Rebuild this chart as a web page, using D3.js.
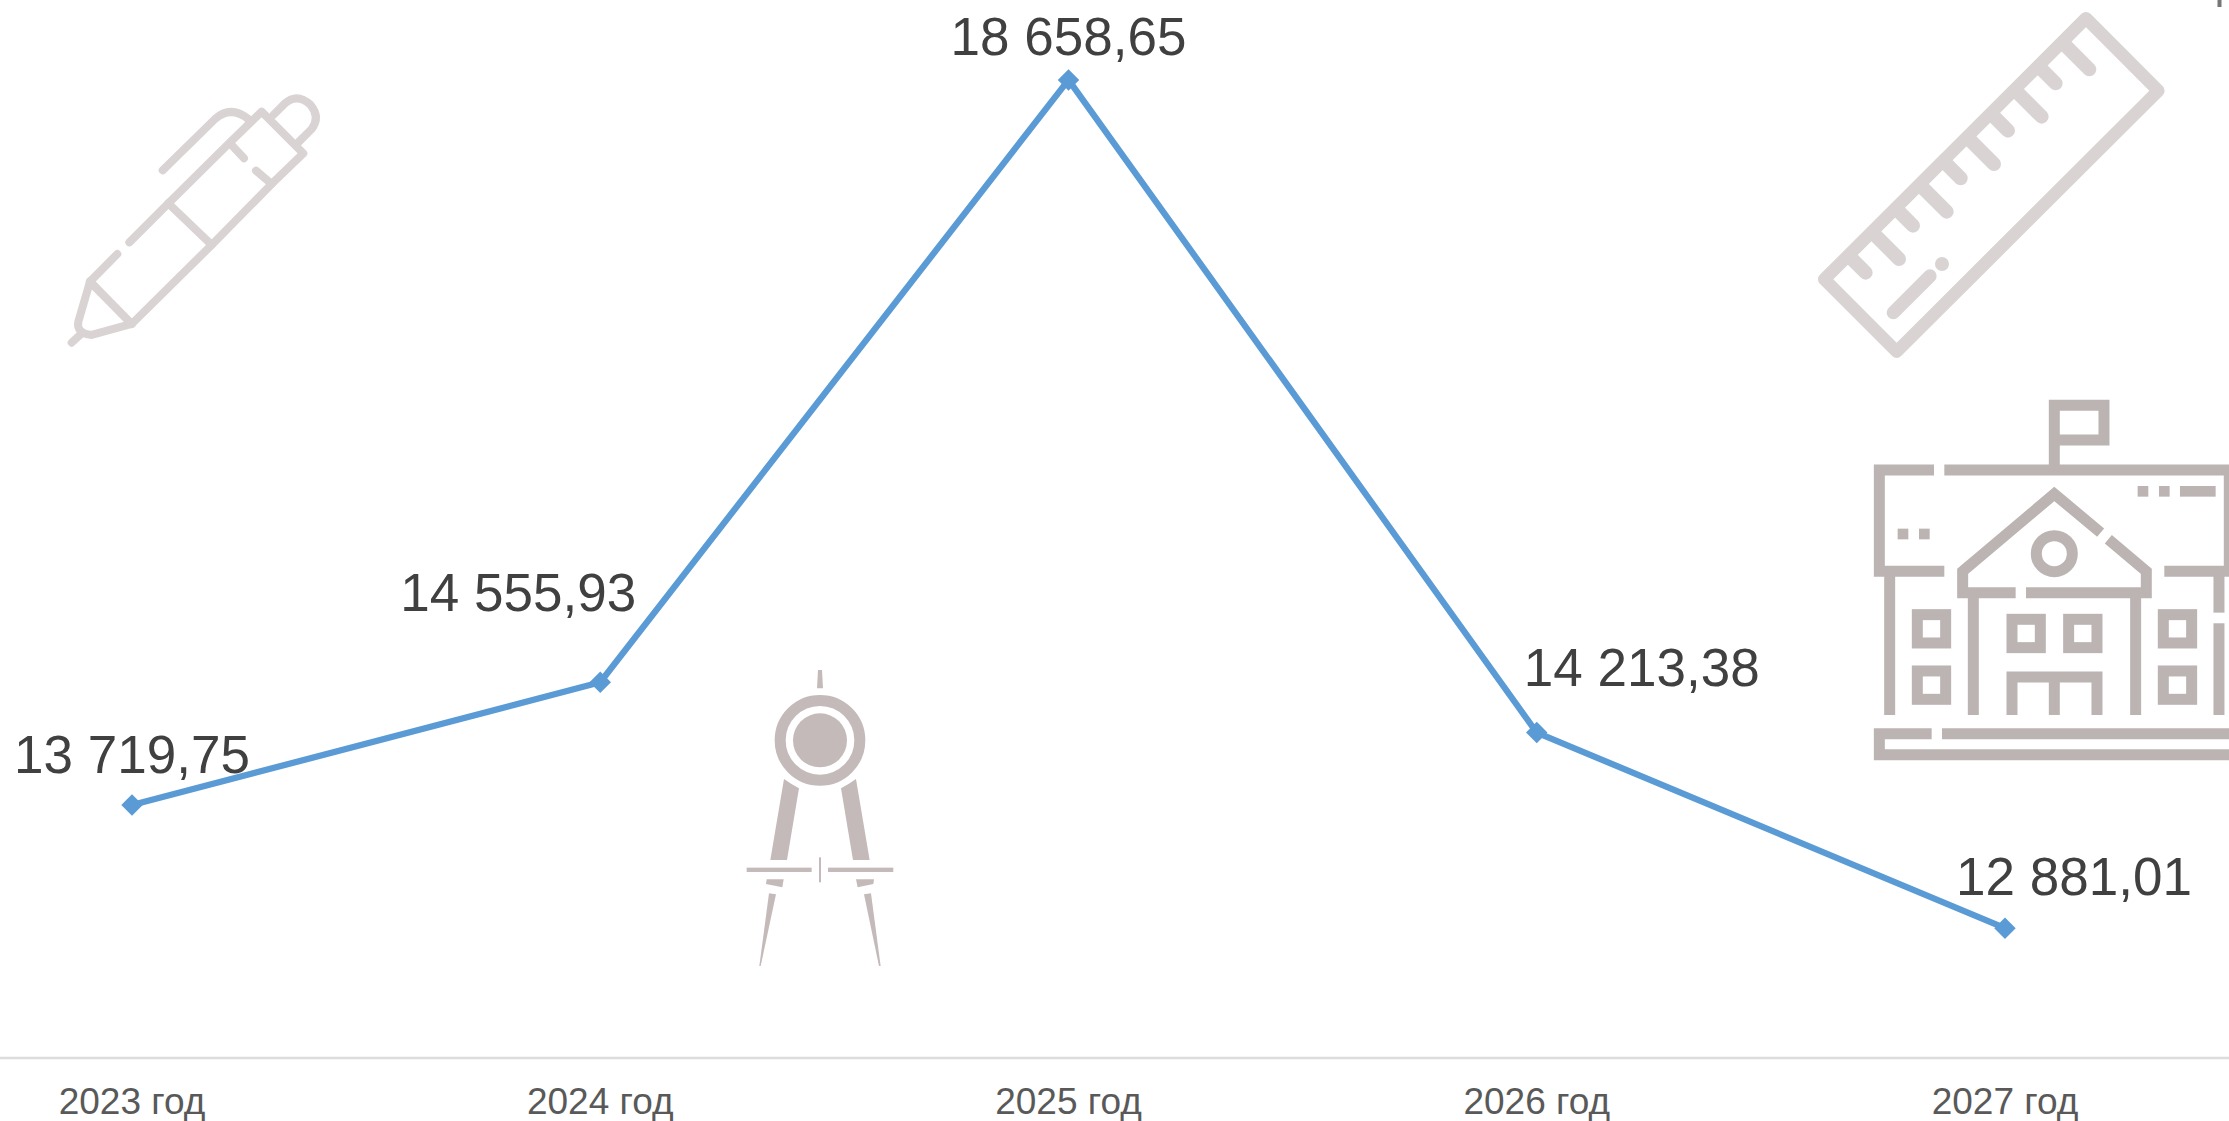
<!DOCTYPE html>
<html>
<head>
<meta charset="utf-8">
<script src="https://cdn.jsdelivr.net/npm/d3@7/dist/d3.min.js"></script>
<style>
html,body{margin:0;padding:0;background:#fff;overflow:hidden}
svg{display:block}
text{font-family:"Liberation Sans",Arial,sans-serif}
</style>
</head>
<body>
<svg id="chart" width="2229" height="1121"></svg>
<script>
const categories = ["2023 год","2024 год","2025 год","2026 год","2027 год"];
const values = [13719.75,14555.93,18658.65,14213.38,12881.01];
const labelDx = [0,-82,0,105,69];
const labelDy = [-32,-71,-25,-47,-33];

const W = 2229, H = 1121;
const svg = d3.select("#chart");
const x = d3.scaleBand().domain(categories).range([-102.1,2239.1]).padding(0);
const y = d3.scaleLinear().domain([12000,20000]).range([1057.5,-117]);
const cx = d => x(d) + x.bandwidth()/2;
const fmt = d3.formatLocale({decimal:",",thousands:" ",grouping:[3],currency:["",""]}).format(",.2f");

/* decorative icons, in the coordinates of their own drawing */
const pen = svg.append("g").attr("transform","translate(40,70) scale(0.3333)")
  .attr("fill","none").attr("stroke","#d9d3d3").attr("stroke-width",24)
  .attr("stroke-linecap","round").attr("stroke-linejoin","round");
[
 "M368 301L525 147Q572 105 625 147",
 "M268 517L385 400L570 217L665 125L790 250L695 342L515 525L275 762L150 635L232 552",
 "M385 400L515 525","M570 220L612 265","M648 302L695 342",
 "M700 135L735 100Q772 68 812 105Q842 142 815 177L775 217",
 "M150 635L115 755Q108 790 155 795L275 762",
 "M150 635L275 762","M125 790L95 818"
].forEach(d => pen.append("path").attr("d",d));

const ruler = svg.append("g").attr("transform","translate(1790,0) scale(0.3333)")
  .attr("fill","none").attr("stroke","#d9d3d3").attr("stroke-linecap","round").attr("stroke-linejoin","round");
ruler.append("path").attr("stroke-width",38).attr("d","M888 55L1105 272L320 1055L103 838Z");
[[819,129,898,208],[747.5,200.5,797,250],[676.5,271.5,755,350],[605,343,654,392],[534,414,612,492],
 [462.5,485.5,512,535],[391.5,556.5,470,635],[320,628,369,677],[249,699,327,777],[178.5,769.5,227,818]]
 .forEach(t => ruler.append("line").attr("x1",t[0]).attr("y1",t[1]).attr("x2",t[2]).attr("y2",t[3]).attr("stroke-width",42));
ruler.append("line").attr("x1",310).attr("y1",938).attr("x2",420).attr("y2",828).attr("stroke-width",40);
ruler.append("circle").attr("cx",456).attr("cy",792).attr("r",21).attr("fill","#d9d3d3").attr("stroke","none");

const school = svg.append("g").attr("transform","translate(1850,390) scale(0.3333)")
  .attr("fill","none").attr("stroke","#bcb4b2").attr("stroke-width",33);
[
 "M613 240V46H762V150H613",
 "M252 240H88V544H283","M283 240H1138V544H943",
 "M119 544V975","M1107 544V668","M1107 700V975",
 "M497 608H338V544L613 312L752 428","M775 448L889 544V608H528",
 "M370 608V975","M857 608V975",
 "M486 975V861H741V975","M613 861V975",
 "M245 1031H88V1094H1160","M276 1031H1160"
].forEach(d => school.append("path").attr("d",d));
school.append("circle").attr("cx",613).attr("cy",491).attr("r",54);
[[202,674],[202,843],[940,674],[940,843]].forEach(p => school.append("rect").attr("x",p[0]).attr("y",p[1]).attr("width",85).attr("height",85));
[[486,688],[656,688]].forEach(p => school.append("rect").attr("x",p[0]).attr("y",p[1]).attr("width",85).attr("height",85));
[[143,416,32],[207,416,32],[863,288,32],[927,288,32],[990,288,107]].forEach(p =>
  school.append("rect").attr("x",p[0]).attr("y",p[1]).attr("width",p[2]).attr("height",32).attr("fill","#bcb4b2").attr("stroke","none"));

const compass = svg.append("g").attr("transform","translate(730,660) scale(0.3333)").attr("fill","#c4baba");
[
 "M264 30H276L279 85H261Z",
 "M162 357Q183 372 207 385L171 600H121Z","M378 357Q357 372 333 385L369 600H419Z",
 "M110 658H161L157 682L108 672Z","M378 658H432L430 672L383 682Z",
 "M117 700L138 703L92 918H88Z","M402 703L423 700L452 918H447Z"
].forEach(d => compass.append("path").attr("d",d));
compass.append("circle").attr("cx",270).attr("cy",241).attr("r",119.5).attr("fill","none").attr("stroke","#c4baba").attr("stroke-width",33);
compass.append("circle").attr("cx",270).attr("cy",241).attr("r",81);
[[50,623,195,13],[294,623,196,13],[267,592,6,75]].forEach(r =>
  compass.append("rect").attr("x",r[0]).attr("y",r[1]).attr("width",r[2]).attr("height",r[3]));

svg.append("rect").attr("x",2217.5).attr("y",0).attr("width",4).attr("height",7).attr("fill","#777");

/* axis */
const axis = svg.append("g").attr("transform",`translate(0,${y(12000)})`)
  .call(d3.axisBottom(x).tickSize(0).tickPadding(30));
axis.select(".domain").attr("stroke","#dcdcdc").attr("stroke-width",2.5);
axis.selectAll("text").attr("font-size",37).attr("fill","#595959")
  .style("font-family",'"Liberation Sans",Arial,sans-serif');

/* line, markers, labels */
const pts = categories.map((c,i)=>({c,v:values[i],i}));
svg.append("path").datum(pts)
  .attr("fill","none").attr("stroke","#5b9bd5").attr("stroke-width",6.3).attr("stroke-linejoin","round")
  .attr("d",d3.line().x(d=>cx(d.c)).y(d=>y(d.v)));
svg.selectAll(".m").data(pts).join("path").attr("class","m")
  .attr("d",d3.symbol(d3.symbolSquare,230))
  .attr("fill","#5b9bd5")
  .attr("transform",d=>`translate(${cx(d.c)},${y(d.v)}) rotate(45)`);
svg.selectAll(".l").data(pts).join("text").attr("class","l")
  .attr("x",d=>cx(d.c)+labelDx[d.i]).attr("y",d=>y(d.v)+labelDy[d.i])
  .attr("text-anchor","middle").attr("font-size",53).attr("fill","#404040")
  .text(d=>fmt(d.v));
</script>
</body>
</html>
